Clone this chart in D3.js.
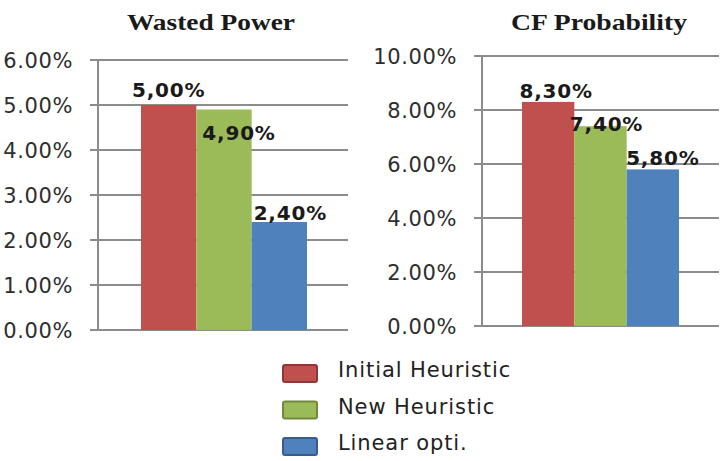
<!DOCTYPE html>
<html>
<head>
<meta charset="utf-8">
<script src="https://cdn.jsdelivr.net/npm/d3@7"></script>
<style>
  body { margin: 0; background: #fff; }
  svg { display: block; }
</style>
</head>
<body>
<div id="chart"></div>
<script>
// data
var seriesNames = ["Initial Heuristic", "New Heuristic", "Linear opti."];
var seriesColors = ["#C0504D", "#9BBB59", "#4F81BD"];
var seriesBorders = ["#8C3836", "#71893F", "#385D8A"];

var wastedPower = [5.00, 4.90, 2.40];
var wastedTicks = [0, 1, 2, 3, 4, 5, 6];

var cfProbability = [8.30, 7.40, 5.80];
var cfTicks = [0, 2, 4, 6, 8, 10];

var svgWidth = 727;
var svgHeight = 461;

var svg = d3.select("#chart")
  .append("svg")
  .attr("width", svgWidth)
  .attr("height", svgHeight);

var fmtTick = d => d.toFixed(2) + "%";
var fmtLabel = d => d.toFixed(2).replace(".", ",") + "%";

// panel layout (label offsets copy the hand-moved labels of the original)
var panels = [
  {
    title: "Wasted Power", titleX: 211, titleW: 168,
    values: wastedPower, ticks: wastedTicks,
    axisX: 98, gridLeft: 90, gridRight: 348,
    y0: 330, yTop: 60,
    barLeft: 141, barRight: 307,
    labelDx: [0, 15, 11], labelDy: [-8, 30, -2]
  },
  {
    title: "CF Probability", titleX: 599, titleW: 176,
    values: cfProbability, ticks: cfTicks,
    axisX: 482, gridLeft: 474, gridRight: 719,
    y0: 326, yTop: 56,
    barLeft: 522, barRight: 679,
    labelDx: [8, 6, 10], labelDy: [-4, 5, -4]
  }
];

panels.forEach(function(p) {
  var g = svg.append("g");

  var y = d3.scaleLinear()
    .domain([0, d3.max(p.ticks)])
    .range([p.y0, p.yTop]);

  var x = d3.scaleBand()
    .domain(seriesNames)
    .range([p.barLeft, p.barRight])
    .padding(0);

  // gridlines
  g.selectAll(".grid")
    .data(p.ticks)
    .enter()
    .append("line")
    .attr("x1", p.gridLeft)
    .attr("x2", p.gridRight)
    .attr("y1", d => y(d))
    .attr("y2", d => y(d))
    .attr("stroke", "#8c8c8c")
    .attr("stroke-width", 2);

  // vertical axis line
  g.append("line")
    .attr("x1", p.axisX)
    .attr("x2", p.axisX)
    .attr("y1", y(0))
    .attr("y2", y(d3.max(p.ticks)))
    .attr("stroke", "#8c8c8c")
    .attr("stroke-width", 2);

  // tick labels
  g.selectAll(".tick")
    .data(p.ticks)
    .enter()
    .append("text")
    .attr("x", p.gridLeft - 17)
    .attr("y", d => y(d) + 8)
    .attr("text-anchor", "end")
    .attr("font-family", "DejaVu Sans, sans-serif")
    .attr("font-size", 21)
    .attr("letter-spacing", 0.6)
    .attr("fill", "#2e2e2e")
    .text(fmtTick);

  // bars
  g.selectAll(".bar")
    .data(p.values)
    .enter()
    .append("rect")
    .attr("x", (d, i) => x(seriesNames[i]))
    .attr("y", d => y(d))
    .attr("width", x.bandwidth())
    .attr("height", d => y(0) - y(d))
    .attr("fill", (d, i) => seriesColors[i]);

  // value labels
  g.selectAll(".val")
    .data(p.values)
    .enter()
    .append("text")
    .attr("x", (d, i) => x(seriesNames[i]) + x.bandwidth() / 2 + p.labelDx[i])
    .attr("y", (d, i) => y(d) + p.labelDy[i])
    .attr("text-anchor", "middle")
    .attr("font-family", "DejaVu Sans, sans-serif")
    .attr("font-weight", "bold")
    .attr("font-size", 20)
    .attr("letter-spacing", 0.8)
    .attr("fill", "#1a1a1a")
    .text(fmtLabel);

  // title
  g.append("text")
    .attr("x", p.titleX - p.titleW / 2)
    .attr("y", 30)
    .attr("font-family", "Liberation Serif, serif")
    .attr("font-weight", "bold")
    .attr("font-size", 23)
    .attr("textLength", p.titleW)
    .attr("lengthAdjust", "spacingAndGlyphs")
    .attr("fill", "#1a1a1a")
    .text(p.title);
});

// legend
var legend = svg.append("g")
  .attr("transform", "translate(282, 364)");

var items = legend.selectAll(".item")
  .data(seriesNames)
  .enter()
  .append("g")
  .attr("transform", (d, i) => `translate(0, ${i * 36.5})`);

items.append("rect")
  .attr("x", 1)
  .attr("y", 1)
  .attr("width", 34)
  .attr("height", 17)
  .attr("rx", 2)
  .attr("fill", (d, i) => seriesColors[i])
  .attr("stroke", (d, i) => seriesBorders[i])
  .attr("stroke-width", 2);

items.append("text")
  .attr("x", 56)
  .attr("y", 13)
  .attr("font-family", "DejaVu Sans, sans-serif")
  .attr("font-size", 21)
  .attr("letter-spacing", 0.9)
  .attr("fill", "#222")
  .text(d => d);
</script>
</body>
</html>
